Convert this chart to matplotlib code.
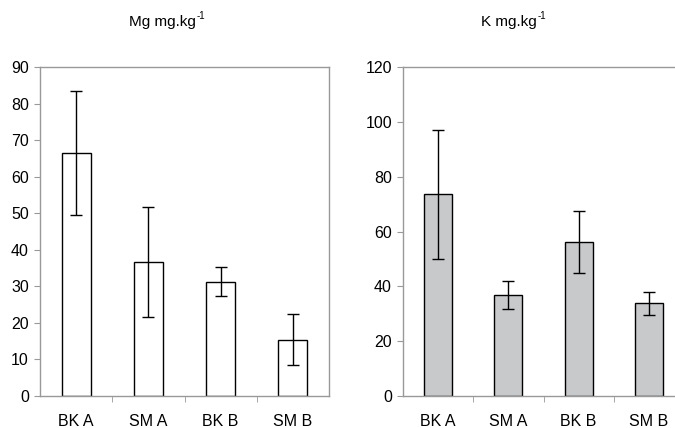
import numpy as np
import matplotlib
matplotlib.use("Agg")
import matplotlib.pyplot as plt

plt.rcParams['font.family'] = ['Liberation Sans', 'DejaVu Sans']

categories = ['BK A', 'SM A', 'BK B', 'SM B']
mg_values = [66.5, 36.7, 31.3, 15.4]
mg_errors = [17.0, 15.0, 4.0, 6.9]
k_values = [73.5, 37.0, 56.3, 33.8]
k_errors = [23.5, 5.1, 11.3, 4.2]

fig = plt.figure(figsize=(6.75, 4.28), dpi=100)
fig.set_facecolor('white')

ax1 = fig.add_axes([40 / 675, 32 / 428, 289 / 675, 329 / 428])
ax2 = fig.add_axes([403 / 675, 32 / 428, 281 / 675, 329 / 428])


def draw_panel(ax, values, errors, color, ymax, step):
    x = np.arange(len(categories))
    ax.bar(x, values, width=0.4, color=color, edgecolor='black', linewidth=1.0, zorder=2)
    ax.errorbar(x, values, yerr=errors, fmt='none', ecolor='black',
                elinewidth=1.0, capsize=4.5, capthick=1.0, zorder=3)
    ax.set_xlim(-0.5, len(categories) - 0.5)
    ax.set_ylim(0, ymax)
    ax.set_yticks(np.arange(0, ymax + 1, step))
    ax.set_xticks(x)
    ax.set_xticklabels(categories)
    ax.set_xticks(np.arange(0.5, len(categories) - 0.5, 1), minor=True)
    ax.tick_params(axis='x', which='major', length=0, pad=13, labelsize=11.5)
    ax.tick_params(axis='x', which='minor', length=4, color='#999999', direction='out')
    ax.tick_params(axis='y', length=4, color='#999999', pad=4, labelsize=11.5)
    for s in ax.spines.values():
        s.set_color('#999999')
        s.set_linewidth(1.0)


draw_panel(ax1, mg_values, mg_errors, 'white', 90, 10)
draw_panel(ax2, k_values, k_errors, '#c7c9cb', 120, 20)

# titles with small hyphen superscript
ty = 1 - 22 / 428
fig.text(196 / 675, ty, 'Mg mg.kg', ha='right', va='center', fontsize=11)
fig.text(197 / 675, ty + 6 / 428, '-1', ha='left', va='center', fontsize=7)
fig.text(537 / 675, ty, 'K mg.kg', ha='right', va='center', fontsize=11)
fig.text(538 / 675, ty + 6 / 428, '-1', ha='left', va='center', fontsize=7)

plt.savefig('out.png', dpi=100)
